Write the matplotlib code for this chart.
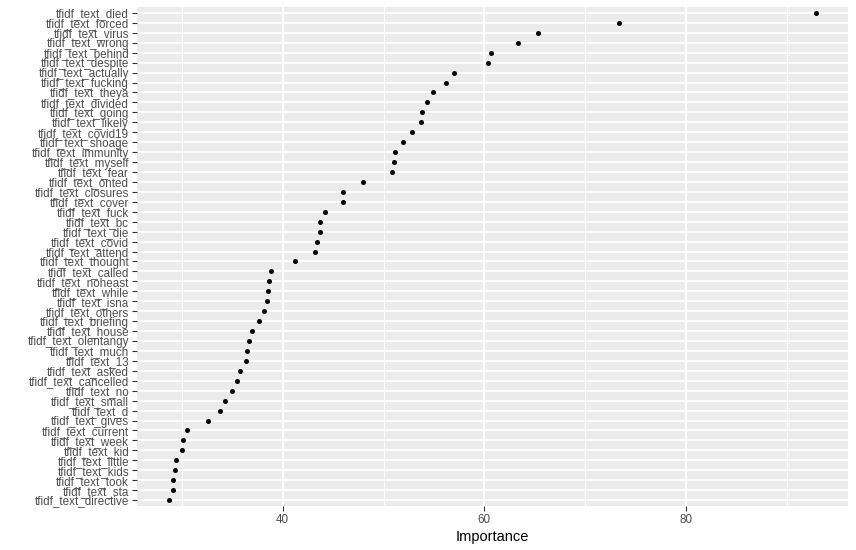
import numpy as np
import matplotlib.pyplot as plt
from matplotlib.ticker import FixedLocator

# feature names, top to bottom as shown
features = ["tfidf_text_died", "tfidf_text_forced", "tfidf_text_virus", "tfidf_text_wrong",
            "tfidf_text_behind", "tfidf_text_despite", "tfidf_text_actually", "tfidf_text_fucking",
            "tfidf_text_theya", "tfidf_text_divided", "tfidf_text_going", "tfidf_text_likely",
            "tfidf_text_covid19", "tfidf_text_shoage", "tfidf_text_immunity", "tfidf_text_myself",
            "tfidf_text_fear", "tfidf_text_onted", "tfidf_text_closures", "tfidf_text_cover",
            "tfidf_text_fuck", "tfidf_text_bc", "tfidf_text_die", "tfidf_text_covid",
            "tfidf_text_attend", "tfidf_text_thought", "tfidf_text_called", "tfidf_text_noheast",
            "tfidf_text_while", "tfidf_text_isna", "tfidf_text_others", "tfidf_text_briefing",
            "tfidf_text_house", "tfidf_text_olentangy", "tfidf_text_much", "tfidf_text_13",
            "tfidf_text_asked", "tfidf_text_cancelled", "tfidf_text_no", "tfidf_text_small",
            "tfidf_text_d", "tfidf_text_gives", "tfidf_text_current", "tfidf_text_week",
            "tfidf_text_kid", "tfidf_text_little", "tfidf_text_kids", "tfidf_text_took",
            "tfidf_text_sta", "tfidf_text_directive"]

importance = [92.87, 73.37, 65.3, 63.3, 60.7, 60.4, 57.0, 56.2, 54.9, 54.3, 53.8, 53.7,
              52.78, 51.89, 51.10, 51.00, 50.80, 47.94, 45.96, 45.96, 44.18, 43.68, 43.68,
              43.39, 43.19, 41.21, 38.87, 38.64, 38.54, 38.44, 38.14, 37.65, 36.96, 36.66,
              36.46, 36.36, 35.77, 35.47, 34.98, 34.29, 33.79, 32.60, 30.53, 30.13, 30.03,
              29.44, 29.34, 29.14, 29.14, 28.75]

x_major = [40, 60, 80]
x_minor = [30, 50, 70, 90]

plt.rcParams['font.family'] = ['Liberation Sans', 'DejaVu Sans']

fig = plt.figure(figsize=(8.56, 5.5), dpi=100)
ax = fig.add_axes([137/856, 44/550, 711/856, 499/550])
ax.set_facecolor('#EBEBEB')

n = len(features)
ypos = np.arange(n)[::-1]  # first feature on top

ax.scatter(importance, ypos, s=13, color='black', zorder=3, linewidths=0)

rng = max(importance) - min(importance)
ax.set_xlim(min(importance) - 0.05*rng, max(importance) + 0.05*rng)
ax.set_ylim(-0.6, n - 1 + 0.6)

ax.xaxis.set_major_locator(FixedLocator(x_major))
ax.xaxis.set_minor_locator(FixedLocator(x_minor))
ax.set_yticks(ypos)
ax.set_yticklabels(features)

ax.grid(which='major', color='white', linewidth=1.4, zorder=0)
ax.grid(which='minor', axis='x', color='white', linewidth=0.7, zorder=0)
ax.set_axisbelow(True)

for s in ax.spines.values():
    s.set_visible(False)

ax.tick_params(axis='both', which='major', color='#333333', length=3.7, width=0.8,
               labelsize=8.4, labelcolor='#4D4D4D', pad=2)
ax.tick_params(axis='x', which='minor', length=0)

ax.set_xlabel("Importance", fontsize=10.5, color='black', labelpad=3)

plt.savefig('out.png', dpi=100)
